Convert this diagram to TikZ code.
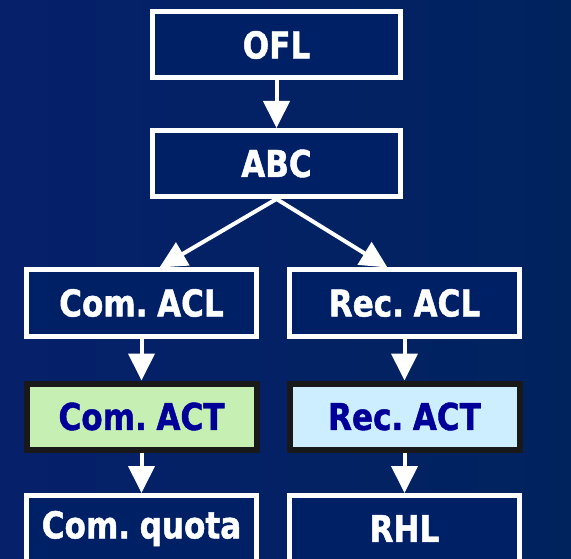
\documentclass[tikz,border=0pt]{standalone}
\usepackage{fontspec}
\setmainfont{DejaVu Sans}[FakeStretch=0.85,WordSpace=0.55,
  BoldFeatures={FakeStretch=0.84,FakeBold=1.2,WordSpace=0.55}]
\usetikzlibrary{arrows.meta}
\definecolor{BackLeftClr}{HTML}{06206A}
\definecolor{BackRightClr}{HTML}{00235E}
\definecolor{BoxClr}{HTML}{002066}
\definecolor{ComClr}{HTML}{C6EFB4}
\definecolor{RecClr}{HTML}{CCEEFF}
\definecolor{ActTextClr}{HTML}{000099}

\tikzset{
  flowbox/.style={draw=white,line width=5pt,fill=BoxClr,text=white,
    minimum height=66pt,inner sep=0pt,font=\fontsize{37}{40}\selectfont\bfseries},
  actbox/.style={flowbox,draw=black!90,line width=6pt,text=ActTextClr},
  flowarrow/.style={draw=white,line width=4pt,
    -{Triangle[width=26pt,length=27pt]}}
}

\begin{document}
\begin{tikzpicture}[x=1pt,y=-1pt]
\useasboundingbox (0,0) rectangle (571,559);
\shade[left color=BackLeftClr,right color=BackRightClr] (0,0) rectangle (571,559);

\begin{scope}
\clip (0,0) rectangle (571,559);
\node[flowbox,minimum width=248pt] (ofl) at (276.5,45) {OFL};
\node[flowbox,minimum width=248pt] (abc) at (276.5,163.5) {ABC};

\node[flowbox,minimum width=230pt] (comacl) at (141.5,303) {Com. ACL};
\node[flowbox,minimum width=230pt] (recacl) at (404.5,303) {Rec. ACL};

\node[actbox,fill=ComClr,minimum width=230pt] (comact) at (141.5,416.5) {Com. ACT};
\node[actbox,fill=RecClr,minimum width=230pt] (recact) at (404.5,416.5) {Rec. ACT};

\node[flowbox,minimum width=230pt] (comquota) at (141.5,528.5) {Com. quota};
\node[flowbox,minimum width=230pt] (rhl) at (404.5,528.5) {RHL};
\end{scope}

\draw[flowarrow] (ofl.south) -- (abc.north);
\draw[flowarrow] (abc.south) -- ([xshift=18pt]comacl.north);
\draw[flowarrow] (abc.south) -- ([xshift=-17pt]recacl.north);
\draw[flowarrow] (comacl.south) -- (comact.north);
\draw[flowarrow] (recacl.south) -- (recact.north);
\draw[flowarrow] (comact.south) -- (comquota.north);
\draw[flowarrow] (recact.south) -- (rhl.north);

\end{tikzpicture}
\end{document}
